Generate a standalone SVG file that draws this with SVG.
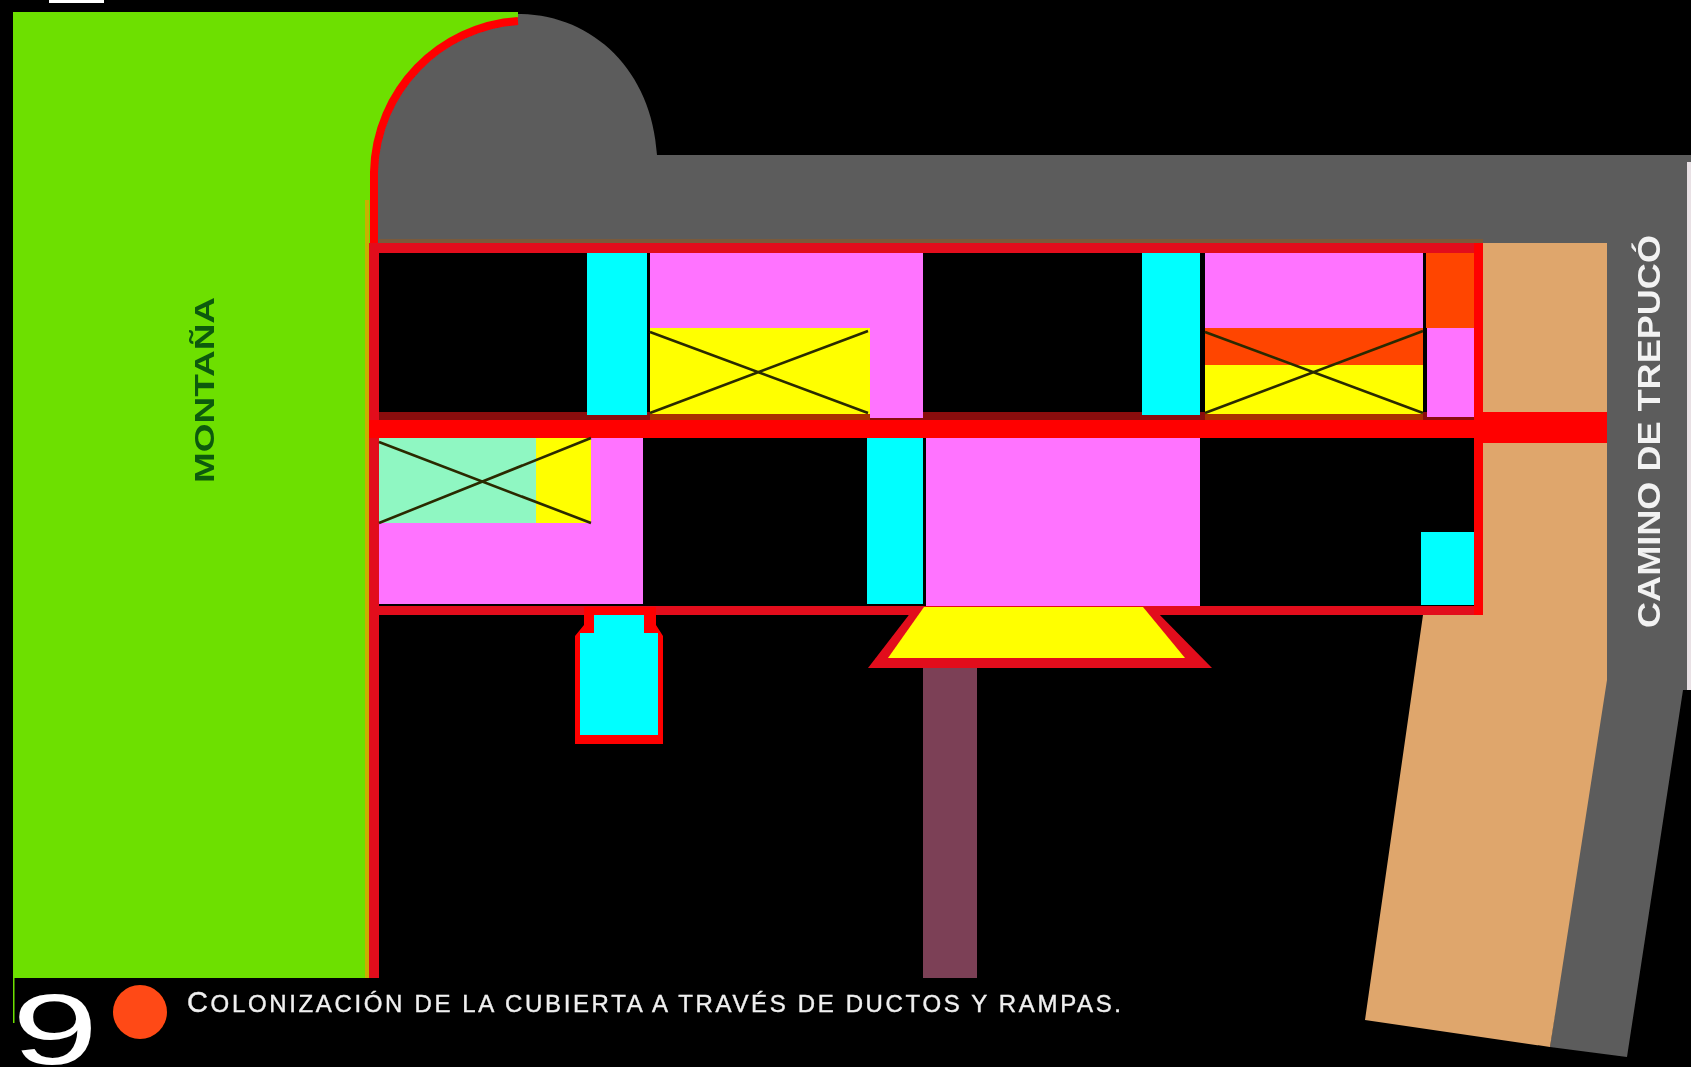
<svg xmlns="http://www.w3.org/2000/svg" width="1691" height="1067" viewBox="0 0 1691 1067">
<style>
.pink{fill:#ff73ff}.cyan{fill:#00ffff}.yellow{fill:#ffff00}.red{fill:#ff0000}.frame{fill:#e20f1c}.orange{fill:#ff4400}.mint{fill:#8ff7c2}.gray{fill:#5c5c5c}.tan{fill:#dfa66c}.dark{fill:#000}.strip{fill:#a83000}
.x{stroke:#2c2a00;stroke-width:2.6;fill:none}
text{font-family:"Liberation Sans",Arial,sans-serif}
.lab{font-weight:700}
</style>
<defs><filter id="soft" filterUnits="userSpaceOnUse" x="0" y="0" width="1691" height="1067"><feGaussianBlur stdDeviation="0.7"/></filter></defs>
<rect width="1691" height="1067" fill="#000"/>
<g filter="url(#soft)">
<rect x="49" y="0" width="55" height="3" fill="#fff"/>
<path class="gray" d="M374,250V172C374,90 440,14 518,14C592,14 652,70 657,155H1691V690H1683L1627,1057L1550,1047L1600,690H1480V250Z"/>
<path fill="#6de000" d="M13,12H518V18C440,24 376,90 374,172V978H13Z"/>
<rect x="13" y="978" width="1.5" height="45" fill="#6de000"/>
<rect x="365" y="200" width="4" height="778" fill="#c8b000"/>
<rect x="1687" y="162" width="4" height="528" fill="#e8e0e4"/>
<rect x="379" y="239" width="1104" height="4" fill="#7a5a3a"/>
<path class="tan" d="M1483,243H1607V680L1550,1047L1365,1020L1423,615H1483Z"/>
<rect x="923" y="668" width="54" height="310" fill="#7c4156"/>
<path fill="none" stroke="#f00" stroke-width="8" d="M374,250V172C376,90 440,26 518,21"/>
<rect class="frame" x="369" y="243" width="10" height="735"/>
<rect class="frame" x="369" y="243" width="1114" height="10"/>
<rect class="frame" x="369" y="606" width="1114" height="9"/>
<rect class="red" x="1474" y="243" width="9" height="372"/>
<rect class="dark" x="379" y="253" width="1095" height="353"/>
<rect x="379" y="412" width="1095" height="8" fill="#8a0c0c"/>
<rect class="red" x="369" y="420" width="1105" height="18"/>
<rect class="red" x="1474" y="412" width="133" height="31"/>
<rect class="cyan" x="587" y="253" width="60" height="162"/>
<rect class="pink" x="650" y="253" width="273" height="165"/>
<rect class="yellow" x="650" y="328" width="220" height="86"/>
<rect class="strip" x="650" y="414" width="220" height="6"/>
<path class="x" d="M650,332L868,413M650,413L868,331"/>
<rect class="cyan" x="1142" y="253" width="58" height="162"/>
<rect class="pink" x="1205" y="253" width="218" height="75"/>
<rect class="orange" x="1205" y="328" width="218" height="37"/>
<rect class="yellow" x="1205" y="365" width="218" height="49"/>
<rect class="strip" x="1205" y="414" width="218" height="6"/>
<path class="x" d="M1205,332L1423,413M1205,413L1423,331"/>
<rect class="orange" x="1426" y="253" width="48" height="75"/>
<rect class="pink" x="1427" y="328" width="47" height="89"/>
<rect class="pink" x="379" y="438" width="264" height="166"/>
<rect class="mint" x="379" y="438" width="157" height="85"/>
<rect class="yellow" x="536" y="438" width="55" height="85"/>
<path class="x" d="M379,442L591,523M379,523L591,438"/>
<rect class="cyan" x="867" y="438" width="56" height="166"/>
<rect class="pink" x="926" y="438" width="274" height="168"/>
<rect class="cyan" x="1421" y="532" width="53" height="73"/>
<path class="red" d="M584,607H656V625L663,636V744H575V636L584,625Z"/>
<path class="cyan" d="M594,615H644V633H658V735H580V633H594Z"/>
<path class="frame" d="M915,607H1152L1212,668H868Z"/>
<path class="yellow" d="M924,607H1143L1185,658H888Z"/>
<circle cx="140" cy="1012" r="27" fill="#ff4a12"/>
<text class="lab" transform="translate(214,483) rotate(-90)" font-size="28" textLength="186" lengthAdjust="spacingAndGlyphs" fill="#0d5a0d">MONTAÑA</text>
<text class="lab" transform="translate(1660,628) rotate(-90)" font-size="31" textLength="393" lengthAdjust="spacingAndGlyphs" fill="#f2f2f2">CAMINO DE TREPUCÓ</text>
<text x="187" y="1012" font-size="24" fill="#f0f0f0" stroke="#f0f0f0" stroke-width="0.4" textLength="934" lengthAdjust="spacing"><tspan font-size="29">C</tspan>OLONIZACIÓN DE LA CUBIERTA A TRAVÉS DE DUCTOS Y RAMPAS.</text>
<text transform="translate(12,1064) scale(1.55,1)" font-family="DejaVu Sans" font-size="100" fill="#fff">9</text>
</g>
</svg>
